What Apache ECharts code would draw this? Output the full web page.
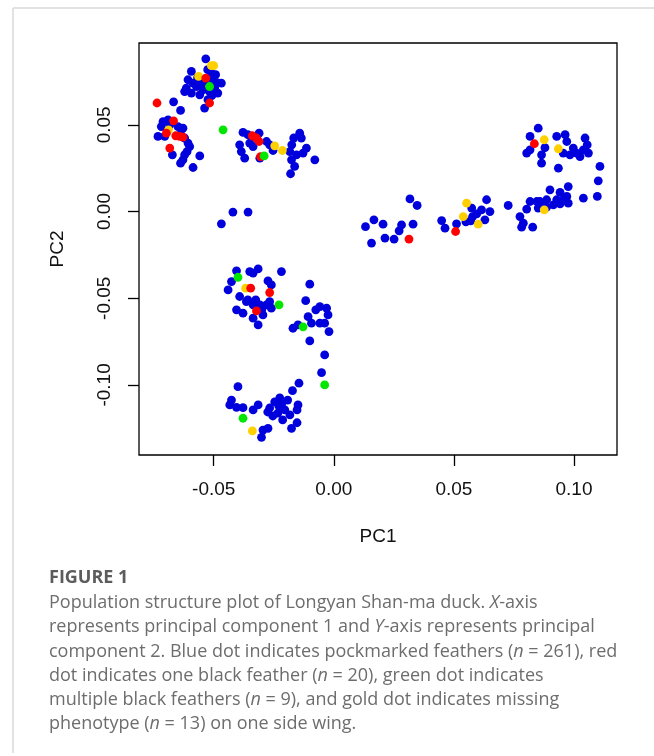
<!DOCTYPE html>
<html>
<head>
<meta charset="utf-8">
<script src="https://cdn.jsdelivr.net/npm/echarts@6/dist/echarts.min.js"></script>
<style>
html,body{margin:0;padding:0;background:#fff;}
#chart{width:654px;height:756px;}
</style>
</head>
<body>
<div id="chart"></div>
<script>
// ---- Data (PC1, PC2) ----
const bluePoints = [
  // upper-left arm
  [-0.0533,0.0881],[-0.0593,0.0808],[-0.0607,0.0760],[-0.0586,0.0741],[-0.0614,0.0712],[-0.0621,0.0692],
  [-0.0572,0.0721],[-0.0551,0.0741],[-0.0538,0.0750],[-0.0503,0.0760],[-0.0486,0.0744],[-0.0496,0.0712],
  [-0.0517,0.0692],[-0.0545,0.0702],[-0.0593,0.0683],[-0.0510,0.0799],[-0.0492,0.0789],[-0.0468,0.0741],
  [-0.0483,0.0683],[-0.0538,0.0597],[-0.0524,0.0645],[-0.0567,0.0772],[-0.0525,0.0818],[-0.0558,0.0673],
  [-0.0508,0.0668],
  // lower-left arm
  [-0.0667,0.0633],[-0.0638,0.0583],[-0.0732,0.0433],[-0.0711,0.0519],[-0.0690,0.0529],[-0.0628,0.0481],
  [-0.0621,0.0424],[-0.0672,0.0327],[-0.0638,0.0279],[-0.0586,0.0254],[-0.0600,0.0375],[-0.0611,0.0346],
  [-0.0621,0.0327],[-0.0558,0.0321],[-0.0718,0.0490],[-0.0649,0.0490],[-0.0635,0.0471],[-0.0704,0.0433],
  [-0.0683,0.0500],[-0.0607,0.0395],[-0.0628,0.0298],
  // middle-upper group
  [-0.0378,0.0456],[-0.0311,0.0452],[-0.0392,0.0385],[-0.0385,0.0346],[-0.0371,0.0308],[-0.0350,0.0395],
  [-0.0336,0.0375],[-0.0280,0.0404],[-0.0267,0.0385],[-0.0308,0.0308],[-0.0358,0.0443],[-0.0253,0.0352],
  [-0.0167,0.0424],[-0.0142,0.0452],[-0.0135,0.0424],[-0.0183,0.0346],[-0.0176,0.0298],[-0.0155,0.0327],
  [-0.0163,0.0260],[-0.0180,0.0218],[-0.0114,0.0366],[-0.0128,0.0337],[-0.0079,0.0298],[-0.0175,0.0385],
  // isolated near zero
  [-0.0420,-0.0003],[-0.0357,-0.0003],[-0.0468,-0.0071],
  // lower-middle left group
  [-0.0405,-0.0342],[-0.0350,-0.0346],[-0.0315,-0.0331],[-0.0336,-0.0355],[-0.0218,-0.0346],[-0.0426,-0.0404],
  [-0.0440,-0.0452],[-0.0274,-0.0400],[-0.0260,-0.0423],[-0.0392,-0.0490],[-0.0364,-0.0519],[-0.0336,-0.0538],
  [-0.0308,-0.0538],[-0.0280,-0.0538],[-0.0267,-0.0519],[-0.0405,-0.0567],[-0.0378,-0.0586],[-0.0336,-0.0615],
  [-0.0315,-0.0654],[-0.0295,-0.0596],[-0.0260,-0.0557],[-0.0358,-0.0510],[-0.0300,-0.0567],[-0.0325,-0.0510],
  // lower-middle right group
  [-0.0100,-0.0419],[-0.0117,-0.0514],[-0.0058,-0.0548],[-0.0030,-0.0557],[-0.0024,-0.0596],[-0.0107,-0.0606],
  [-0.0093,-0.0644],[-0.0170,-0.0673],[-0.0149,-0.0654],[-0.0058,-0.0644],[-0.0038,-0.0644],[-0.0020,-0.0692],
  [-0.0100,-0.0746],[-0.0038,-0.0827],[-0.0051,-0.0929],[-0.0075,-0.0567],
  // bottom group
  [-0.0399,-0.1010],[-0.0426,-0.1087],[-0.0433,-0.1115],[-0.0405,-0.1129],[-0.0378,-0.1131],[-0.0336,-0.1144],
  [-0.0315,-0.1115],[-0.0295,-0.1260],[-0.0274,-0.1250],[-0.0301,-0.1302],[-0.0267,-0.1133],[-0.0246,-0.1098],
  [-0.0225,-0.1075],[-0.0217,-0.1110],[-0.0204,-0.1144],[-0.0233,-0.1162],[-0.0192,-0.1087],[-0.0183,-0.1173],
  [-0.0254,-0.1179],[-0.0275,-0.1156],[-0.0145,-0.0990],[-0.0172,-0.1033],[-0.0149,-0.1115],[-0.0153,-0.1144],
  [-0.0153,-0.1218],[-0.0176,-0.1250],[-0.0213,-0.1202],[-0.0229,-0.1121],
  // right: left group
  [0.0317,0.0073],[0.0347,0.0035],[0.0132,-0.0087],[0.0167,-0.0048],[0.0205,-0.0073],[0.0282,-0.0077],
  [0.0330,-0.0073],[0.0272,-0.0111],[0.0251,-0.0159],[0.0213,-0.0153],[0.0157,-0.0182],
  // right: middle group
  [0.0449,-0.0052],[0.0463,-0.0096],[0.0511,-0.0071],[0.0574,0.0020],[0.0578,-0.0029],[0.0570,-0.0054],
  [0.0615,0.0010],[0.0636,0.0068],[0.0650,0.0000],[0.0629,-0.0048],[0.0595,-0.0013],[0.0726,0.0035],
  [0.0550,-0.0059],
  // right: lower-right group
  [0.0775,-0.0029],[0.0789,-0.0067],[0.0782,-0.0090],[0.0828,-0.0090],[0.0803,0.0014],[0.0817,0.0058],
  [0.0858,0.0058],[0.0886,0.0068],[0.0900,0.0125],[0.0942,0.0110],[0.0955,0.0068],[0.0976,0.0048],
  [0.0914,0.0039],[0.0928,0.0068],[0.0886,0.0025],[0.0976,0.0144],[0.1039,0.0077],[0.1097,0.0087],
  [0.1101,0.0177],[0.1108,0.0260],[0.0851,0.0020],[0.0845,0.0058],[0.0970,0.0087],[0.0871,0.0044],
  [0.0942,0.0044],
  // right: upper-right group
  [0.0851,0.0481],[0.0817,0.0433],[0.0803,0.0337],[0.0817,0.0356],[0.0865,0.0327],[0.0865,0.0279],
  [0.0935,0.0250],[0.0928,0.0433],[0.0963,0.0443],[0.0970,0.0404],[0.0955,0.0337],[0.0983,0.0327],
  [0.1011,0.0337],[0.1039,0.0356],[0.1046,0.0424],[0.1055,0.0385],[0.1060,0.0337],[0.1025,0.0317],
  [0.0997,0.0366],[0.0879,0.0368]
];
const goldPoints = [
  [-0.0510,0.0842],[-0.0500,0.0841],[-0.0563,0.0779],[-0.0688,0.0471],[-0.0246,0.0379],[-0.0214,0.0352],
  [-0.0367,-0.0442],[-0.0339,-0.1265],[0.0553,0.0048],[0.0539,-0.0029],[0.0601,-0.0073],[0.0876,0.0010],
  [0.0876,0.0414],[0.0935,0.0362]
];
const redPoints = [
  [-0.0533,0.0770],[-0.0517,0.0626],[-0.0736,0.0626],[-0.0667,0.0523],[-0.0658,0.0437],[-0.0642,0.0433],
  [-0.0697,0.0452],[-0.0683,0.0366],[-0.0628,0.0429],[-0.0339,0.0437],[-0.0311,0.0404],[-0.0322,0.0424],
  [-0.0305,0.0317],[-0.0346,-0.0442],[-0.0267,-0.0467],[-0.0322,-0.0573],[0.0313,-0.0159],[0.0507,-0.0115],
  [0.0835,0.0391]
];
const greenPoints = [
  [-0.0517,0.0721],[-0.0461,0.0471],[-0.0290,0.0321],[-0.0399,-0.0379],[-0.0228,-0.0538],[-0.0128,-0.0665],
  [-0.0038,-0.1000],[-0.0378,-0.1192]
];
const xTickValues = [-0.05, 0, 0.05, 0.10];
const xTickLabels = ['-0.05', '0.00', '0.05', '0.10'];
const yTickValues = [-0.10, -0.05, 0, 0.05];
const yTickLabels = ['-0.10', '-0.05', '0.00', '0.05'];
const xAxisTitle = 'PC1';
const yAxisTitle = 'PC2';
const figureLabel = 'FIGURE 1';

// ---- Chart ----
const chart = echarts.init(document.getElementById('chart'), null, {renderer: 'canvas'});
const axisFont = 'Liberation Sans, Arial, Helvetica, sans-serif';
const capFont = '"Open Sans", Lato, sans-serif';
const capColor = '#6d6d6d';
const capSize = 18;

function labelFor(values, labels) {
  return function (v) {
    for (let i = 0; i < values.length; i++) {
      if (Math.abs(values[i] - v) < 1e-9) return labels[i];
    }
    return '';
  };
}

function series(name, data, color) {
  return {
    name: name, type: 'scatter', data: data, symbol: 'circle', symbolSize: 8.8,
    itemStyle: {color: color, opacity: 1},
    emphasis: {disabled: true}, silent: true
  };
}

const R = (t) => ({fontFamily: capFont, fontSize: capSize, fill: capColor, fontStyle: t ? 'italic' : 'normal'});
const captionLines = [
  [['Population structure plot of Longyan Shan-ma duck. ', 0], ['X', 1], ['-axis', 0]],
  [['represents principal component 1 and ', 0], ['Y', 1], ['-axis represents principal', 0]],
  [['component 2. Blue dot indicates pockmarked feathers (', 0], ['n', 1], [' = 261), red', 0]],
  [['dot indicates one black feather (', 0], ['n', 1], [' = 20), green dot indicates', 0]],
  [['multiple black feathers (', 0], ['n', 1], [' = 9), and gold dot indicates missing', 0]],
  [['phenotype (', 0], ['n', 1], [' = 13) on one side wing.', 0]]
];
const graphics = [
  {type: 'line', shape: {x1: 13, y1: 8, x2: 654, y2: 8}, style: {stroke: '#d9d9d9', lineWidth: 1.5}, silent: true},
  {type: 'line', shape: {x1: 13, y1: 8, x2: 13, y2: 753}, style: {stroke: '#d9d9d9', lineWidth: 1.5}, silent: true},
  {type: 'text', x: 49, y: 578, style: {text: figureLabel, fontFamily: capFont, fontSize: 18, fontWeight: 'bold', fill: '#5c5c5c', verticalAlign: 'middle'}, silent: true}
];
captionLines.forEach(function (line, i) {
  let txt = '';
  line.forEach(function (seg) { txt += '{' + (seg[1] ? 'i' : 'a') + '|' + seg[0] + '}'; });
  graphics.push({
    type: 'text', x: 49, y: 603 + i * 24.2, silent: true,
    style: {text: txt, verticalAlign: 'middle', fontFamily: capFont, fontSize: capSize, fill: capColor,
      rich: {a: R(0), i: R(1)}}
  });
});

chart.setOption({
  animation: false,
  backgroundColor: '#ffffff',
  grid: {left: 139, right: 37, top: 43, bottom: 301, show: true, borderColor: '#000', borderWidth: 1.3, backgroundColor: 'transparent'},
  xAxis: {
    type: 'value', min: -0.0811, max: 0.1179,
    name: xAxisTitle, nameLocation: 'middle', nameGap: 72,
    nameTextStyle: {fontFamily: axisFont, fontSize: 19, color: '#111'},
    axisLine: {show: false, onZero: false},
    splitLine: {show: false},
    axisTick: {show: true, inside: false, length: 11, customValues: xTickValues, lineStyle: {color: '#000', width: 1.3}},
    axisLabel: {show: true, margin: 25, customValues: xTickValues, formatter: labelFor(xTickValues, xTickLabels),
      fontFamily: axisFont, fontSize: 19, color: '#111'}
  },
  yAxis: {
    type: 'value', min: -0.1404, max: 0.0972,
    name: yAxisTitle, nameLocation: 'middle', nameGap: 72, nameRotate: 90,
    nameTextStyle: {fontFamily: axisFont, fontSize: 19, color: '#111'},
    axisLine: {show: false, onZero: false},
    splitLine: {show: false},
    axisTick: {show: true, inside: false, length: 11, customValues: yTickValues, lineStyle: {color: '#000', width: 1.3}},
    axisLabel: {show: true, margin: 25, rotate: 90, customValues: yTickValues, formatter: labelFor(yTickValues, yTickLabels),
      fontFamily: axisFont, fontSize: 19, color: '#111'}
  },
  series: [
    series('pockmarked', bluePoints, '#0000dd'),
    series('missing', goldPoints, '#ffd000'),
    series('one black', redPoints, '#ff0000'),
    series('multiple black', greenPoints, '#00e600')
  ],
  graphic: graphics
});
</script>
</body>
</html>
